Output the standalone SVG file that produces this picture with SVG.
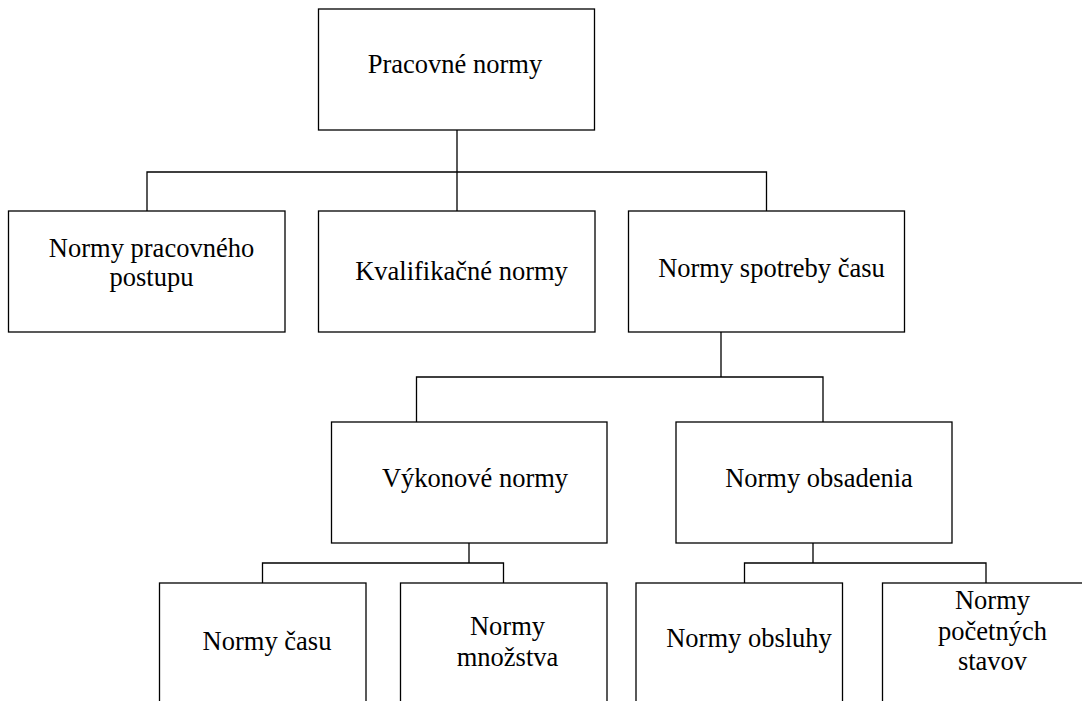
<svg xmlns="http://www.w3.org/2000/svg" width="1082" height="701" viewBox="0 0 1082 701">
<style>
.box{fill:#fff;stroke:#000;stroke-width:1.3}
.c{fill:none;stroke:#000;stroke-width:1.3}
text{font-family:"Liberation Serif","Times New Roman",serif;font-size:26.5px;fill:#000;text-anchor:middle}
</style>
<rect width="1082" height="701" fill="#fff"/>
<g id="connectors">
<path class="c" d="M457,130 V213 M147,211 V172 H766.5 V211"/>
<path class="c" d="M721,332 V377 M416.5,422 V377 H823 V422"/>
<path class="c" d="M469,543 V563 M262.5,583 V563 H503.5 V583"/>
<path class="c" d="M813,543 V563 M744.5,583 V563 H986 V583"/>
</g>
<g id="n-pracovne">
<rect class="box" x="318.5" y="9" width="276" height="121"/>
<text x="455" y="73">Pracovné normy</text>
</g>
<g id="n-postupu">
<rect class="box" x="8.5" y="211" width="276.5" height="121"/>
<text x="151.5" y="257">Normy pracovného</text>
<text x="151.5" y="285.5">postupu</text>
</g>
<g id="n-kvalifikacne">
<rect class="box" x="318.5" y="211" width="276.5" height="121"/>
<text x="461.5" y="280">Kvalifikačné normy</text>
</g>
<g id="n-spotreby">
<rect class="box" x="628.5" y="211" width="276" height="121"/>
<text x="771.5" y="277">Normy spotreby času</text>
</g>
<g id="n-vykonove">
<rect class="box" x="331.5" y="422" width="275.5" height="121"/>
<text x="475" y="487">Výkonové normy</text>
</g>
<g id="n-obsadenia">
<rect class="box" x="676" y="422" width="276" height="121"/>
<text x="819" y="487">Normy obsadenia</text>
</g>
<g id="n-casu">
<rect class="box" x="159.5" y="583" width="206.5" height="140"/>
<text x="267" y="650">Normy času</text>
</g>
<g id="n-mnozstva">
<rect class="box" x="400.5" y="583" width="206.5" height="140"/>
<text x="507.5" y="635">Normy</text>
<text x="507.5" y="665.5">množstva</text>
</g>
<g id="n-obsluhy">
<rect class="box" x="636" y="583" width="206.5" height="140"/>
<text x="749" y="647">Normy obsluhy</text>
</g>
<g id="n-pocetnych">
<rect class="box" x="882.5" y="583" width="206.5" height="140"/>
<text x="992.5" y="609">Normy</text>
<text x="992.5" y="639.5">početných</text>
<text x="992.5" y="670">stavov</text>
</g>
</svg>
